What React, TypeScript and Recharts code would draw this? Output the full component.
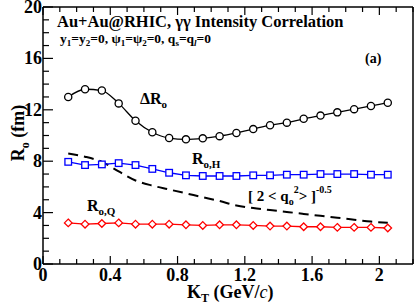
import React from 'react';
import { LineChart, Line, XAxis, YAxis } from 'recharts';

// K_T values (GeV/c)
const kT = [0.15, 0.25, 0.35, 0.45, 0.55, 0.65, 0.75, 0.85, 0.95, 1.05, 1.15, 1.25, 1.35, 1.45, 1.55, 1.65, 1.75, 1.85, 1.95, 2.05];
const deltaRo = [13.0, 13.6, 13.5, 12.5, 11.15, 10.25, 9.8, 9.7, 9.78, 9.95, 10.2, 10.5, 10.8, 11.0, 11.3, 11.55, 11.8, 12.05, 12.3, 12.55];
const roH = [7.95, 7.7, 7.75, 7.85, 7.7, 7.4, 7.1, 6.9, 6.85, 6.85, 6.85, 6.9, 6.9, 6.95, 6.95, 7.0, 7.0, 7.0, 6.95, 6.95];
const roQ = [3.2, 3.1, 3.15, 3.2, 3.1, 3.1, 3.1, 3.05, 3.0, 3.05, 3.05, 3.0, 2.95, 2.95, 2.9, 2.9, 2.85, 2.85, 2.85, 2.8];
const qInv = [8.6, 8.35, 7.95, 7.2, 6.5, 6.1, 5.8, 5.5, 5.2, 4.9, 4.55, 4.35, 4.2, 4.05, 3.9, 3.75, 3.6, 3.45, 3.3, 3.2];

const xTicks = [0, 0.1, 0.2, 0.3, 0.4, 0.5, 0.6, 0.7, 0.8, 0.9, 1.0, 1.1, 1.2, 1.3, 1.4, 1.5, 1.6, 1.7, 1.8, 1.9, 2.0, 2.1, 2.2];
const xLabels = [0, 0.4, 0.8, 1.2, 1.6, 2];
const yTicks = [0, 1, 2, 3, 4, 5, 6, 7, 8, 9, 10, 11, 12, 13, 14, 15, 16, 17, 18, 19, 20];
const yLabels = [0, 4, 8, 12, 16, 20];

const data = kT.map((k, i) => ({ k, dR: deltaRo[i], h: roH[i], q: roQ[i], d: qInv[i] }));

const FONT = 'Liberation Serif';
const isLabel = (arr: number[], v: number) => arr.some((a) => Math.abs(a - v) < 1e-6);

const BottomTick = (props: any) => {
  const { x, y, payload } = props;
  const major = isLabel(xLabels, payload.value);
  return (
    <g>
      <line x1={x} y1={y} x2={x} y2={y - (major ? 8 : 5)} stroke="#000" strokeWidth={1.2} />
      {major && (
        <text x={x} y={y + 17} textAnchor="middle" style={{ fontFamily: FONT, fontWeight: 'bold', fontSize: 18 }} fill="#000">
          {payload.value}
        </text>
      )}
    </g>
  );
};

const TopTick = (props: any) => {
  const { x, y, payload } = props;
  const major = isLabel(xLabels, payload.value);
  return <line x1={x} y1={y} x2={x} y2={y + (major ? 8 : 5)} stroke="#000" strokeWidth={1.2} />;
};

const LeftTick = (props: any) => {
  const { x, y, payload } = props;
  const major = isLabel(yLabels, payload.value);
  return (
    <g>
      <line x1={x} y1={y} x2={x + (major ? 10 : 6)} y2={y} stroke="#000" strokeWidth={1.2} />
      {major && (
        <text x={x - 1} y={y + 6} textAnchor="end" style={{ fontFamily: FONT, fontWeight: 'bold', fontSize: 18 }} fill="#000">
          {payload.value}
        </text>
      )}
    </g>
  );
};

const RightTick = (props: any) => {
  const { x, y, payload } = props;
  const major = isLabel(yLabels, payload.value);
  return <line x1={x} y1={y} x2={x - (major ? 10 : 6)} y2={y} stroke="#000" strokeWidth={1.2} />;
};

const CircleDot = (props: any) => {
  const { cx, cy } = props;
  if (cx == null || cy == null) return null;
  return <circle cx={cx} cy={cy} r={3.6} fill="#fff" stroke="#000" strokeWidth={1.3} />;
};

const SquareDot = (props: any) => {
  const { cx, cy } = props;
  if (cx == null || cy == null) return null;
  return <rect x={cx - 3.3} y={cy - 3.3} width={6.6} height={6.6} fill="#fff" stroke="#0000ff" strokeWidth={1.3} />;
};

const DiamondDot = (props: any) => {
  const { cx, cy } = props;
  if (cx == null || cy == null) return null;
  const r = 3.8;
  return (
    <path d={`M${cx},${cy - r}L${cx + r},${cy}L${cx},${cy + r}L${cx - r},${cy}Z`} fill="#fff" stroke="#ff0000" strokeWidth={1.3} />
  );
};

const ts = (size: number) => ({ fontFamily: FONT, fontWeight: 'bold' as const, fontSize: size });

export default function App() {
  return (
    <div style={{ position: 'absolute', left: 0, top: 0, width: 415, height: 305, background: '#fff' }}>
      <LineChart width={415} height={305} data={data} margin={{ top: 0, right: 0, bottom: 0, left: 0 }}>
        <XAxis
          xAxisId="b"
          dataKey="k"
          type="number"
          domain={[0, 2.2]}
          ticks={xTicks}
          interval={0}
          height={41}
          tickSize={0}
          tickMargin={0}
          tick={<BottomTick />}
          axisLine={{ stroke: '#000', strokeWidth: 1.5 }}
        />
        <XAxis
          xAxisId="t"
          orientation="top"
          dataKey="k"
          type="number"
          domain={[0, 2.2]}
          ticks={xTicks}
          interval={0}
          height={7}
          tickSize={0}
          tickMargin={0}
          tick={<TopTick />}
          axisLine={{ stroke: '#000', strokeWidth: 1.5 }}
        />
        <YAxis
          yAxisId="l"
          type="number"
          domain={[0, 20]}
          ticks={yTicks}
          interval={0}
          width={43}
          tickSize={0}
          tickMargin={0}
          tick={<LeftTick />}
          axisLine={{ stroke: '#000', strokeWidth: 1.5 }}
        />
        <YAxis
          yAxisId="r"
          orientation="right"
          type="number"
          domain={[0, 20]}
          ticks={yTicks}
          interval={0}
          width={2}
          tickSize={0}
          tickMargin={0}
          tick={<RightTick />}
          axisLine={{ stroke: '#000', strokeWidth: 1.5 }}
        />
        <Line xAxisId="b" yAxisId="l" type="monotone" dataKey="d" stroke="#000" strokeWidth={2} strokeDasharray="10 6" dot={false} isAnimationActive={false} />
        <Line xAxisId="b" yAxisId="l" type="linear" dataKey="q" stroke="#ff0000" strokeWidth={1.3} dot={<DiamondDot />} isAnimationActive={false} />
        <Line xAxisId="b" yAxisId="l" type="linear" dataKey="h" stroke="#0000ff" strokeWidth={1.3} dot={<SquareDot />} isAnimationActive={false} />
        <Line xAxisId="b" yAxisId="l" type="monotone" dataKey="dR" stroke="#000" strokeWidth={1.3} dot={<CircleDot />} isAnimationActive={false} />
      </LineChart>
      <svg width={415} height={305} style={{ position: 'absolute', left: 0, top: 0, pointerEvents: 'none' }} fill="#000">
        <text x={57} y={27} style={ts(16.5)}>
          Au+Au@RHIC, γγ  Intensity Correlation
        </text>
        <text x={60} y={43} style={ts(13.5)}>
          y<tspan fontSize={9} dy={3}>1</tspan>
          <tspan dy={-3}>=y</tspan>
          <tspan fontSize={9} dy={3}>2</tspan>
          <tspan dy={-3}>=0,  ψ</tspan>
          <tspan fontSize={9} dy={3}>1</tspan>
          <tspan dy={-3}>=ψ</tspan>
          <tspan fontSize={9} dy={3}>2</tspan>
          <tspan dy={-3}>=0, q</tspan>
          <tspan fontSize={9} dy={3}>s</tspan>
          <tspan dy={-3}>=q</tspan>
          <tspan fontSize={9} dy={3} fontStyle="italic">l</tspan>
          <tspan dy={-3}>=0</tspan>
        </text>
        <text x={365} y={63} style={ts(14)}>(a)</text>
        <text x={140} y={104} style={ts(16)}>
          ΔR<tspan fontSize={11} dy={4}>o</tspan>
        </text>
        <text x={192} y={164} style={ts(16)}>
          R<tspan fontSize={11} dy={4}>o,H</tspan>
        </text>
        <text x={87} y={211} style={ts(16)}>
          R<tspan fontSize={11} dy={4}>o,Q</tspan>
        </text>
        <text x={248} y={201} style={ts(15)}>
          [ 2 &lt; q<tspan fontSize={10} dy={4}>o</tspan>
          <tspan fontSize={10} dy={-12}>2</tspan>
          <tspan dy={8}>&gt; ]</tspan>
          <tspan fontSize={10} dy={-8}>-0.5</tspan>
        </text>
        <text x={187} y={298} style={ts(18)}>
          K<tspan fontSize={12} dy={4}>T</tspan>
          <tspan dy={-4}> (GeV/</tspan>
          <tspan fontStyle="italic" fontWeight="normal">c</tspan>
          <tspan>)</tspan>
        </text>
        <text transform="translate(24,133) rotate(-90)" textAnchor="middle" style={ts(18)}>
          R<tspan fontSize={12} dy={5}>o</tspan>
          <tspan dy={-5}> (fm)</tspan>
        </text>
      </svg>
    </div>
  );
}
